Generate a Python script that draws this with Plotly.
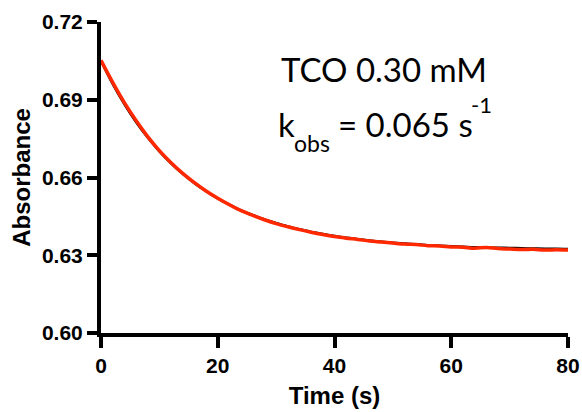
import plotly.graph_objects as go

time_fit = [0, 2, 4, 6, 8, 10, 12, 14, 16, 18, 20, 22, 24, 26, 28, 30, 32, 34, 36, 38, 40,
            42, 44, 46, 48, 50, 52, 54, 56, 58, 60, 62, 64, 66, 68, 70, 72, 74, 76, 78, 80]
abs_fit = [0.7050, 0.6961, 0.6883, 0.6814, 0.6754, 0.6701, 0.6655, 0.6614, 0.6578, 0.6547,
           0.6519, 0.6495, 0.6473, 0.6455, 0.6438, 0.6424, 0.6411, 0.6400, 0.6390, 0.6382,
           0.6374, 0.6368, 0.6362, 0.6357, 0.6352, 0.6348, 0.6345, 0.6342, 0.6339, 0.6337,
           0.6335, 0.6333, 0.6331, 0.6330, 0.6329, 0.6328, 0.6327, 0.6326, 0.6325, 0.6325, 0.6324]

time_data = time_fit
abs_data = [0.7052, 0.6967, 0.6889, 0.6820, 0.6758, 0.6704, 0.6657, 0.6616, 0.6580, 0.6548,
            0.6520, 0.6495, 0.6472, 0.6454, 0.6437, 0.6422, 0.6410, 0.6399, 0.6389, 0.6380,
            0.6372, 0.6366, 0.6361, 0.6355, 0.6351, 0.6347, 0.6343, 0.6341, 0.6337, 0.6336,
            0.6332, 0.6331, 0.6327, 0.6330, 0.6326, 0.6324, 0.6322, 0.6323, 0.6320, 0.6321, 0.6320]

x_ticks = [0, 20, 40, 60, 80]
x_tick_labels = ["0", "20", "40", "60", "80"]
y_ticks = [0.60, 0.63, 0.66, 0.69, 0.72]
y_tick_labels = ["0.60", "0.63", "0.66", "0.69", "0.72"]

W, H = 582, 412
L, R, T, B = 101, 14, 22, 79
pw, ph = W - L - R, H - T - B


def px(xp):
    return (xp - L) / pw


def py(yp):
    return 1 - (yp - T) / ph


fig = go.Figure()
fig.add_trace(go.Scatter(x=time_fit, y=abs_fit, mode="lines",
                         line=dict(color="black", width=2.5, shape="spline"),
                         showlegend=False))
fig.add_trace(go.Scatter(x=time_data, y=abs_data, mode="lines",
                         line=dict(color="rgb(255,40,0)", width=3.5, shape="spline"),
                         showlegend=False))

tick_font = dict(family="Liberation Sans, Arial, sans-serif", size=21, color="black")
title_font = dict(family="Liberation Sans, Arial, sans-serif", size=24, color="black")
ann_font = "Lato, Open Sans, sans-serif"


def ann(x, y, text, size):
    return dict(x=px(x), y=py(y), xref="paper", yref="paper", text=text, showarrow=False,
                xanchor="left", yanchor="middle",
                font=dict(family=ann_font, size=size, color="black"))


fig.update_layout(
    width=W, height=H,
    margin=dict(l=L, r=R, t=T, b=B, autoexpand=False),
    paper_bgcolor="white", plot_bgcolor="white",
    xaxis=dict(range=[0, 80], tickvals=x_ticks, ticktext=["<b>%s</b>" % t for t in x_tick_labels],
               showline=True, linecolor="black", linewidth=4, automargin=False,
               ticks="outside", ticklen=11, tickwidth=4, tickcolor="black", showgrid=False,
               zeroline=False, tickfont=tick_font,
               title=dict(text="<b>Time (s)</b>", font=title_font, standoff=12)),
    yaxis=dict(range=[0.60, 0.72], tickvals=y_ticks, ticktext=["<b>%s</b>" % t for t in y_tick_labels],
               showline=True, linecolor="black", linewidth=4, automargin=False,
               ticks="outside", ticklen=10, tickwidth=4, tickcolor="black", showgrid=False,
               zeroline=False, tickfont=tick_font,
               title=dict(text="<b>Absorbance</b>", font=title_font, standoff=6)),
    annotations=[
        ann(279, 69, "TCO 0.30 mM", 33),
        ann(276, 124, "k", 33),
        ann(292, 143, "obs", 23),
        ann(336, 124, "= 0.065 s", 33),
        ann(469, 104, "-1", 22),
    ],
)
fig.write_html("out.html")
